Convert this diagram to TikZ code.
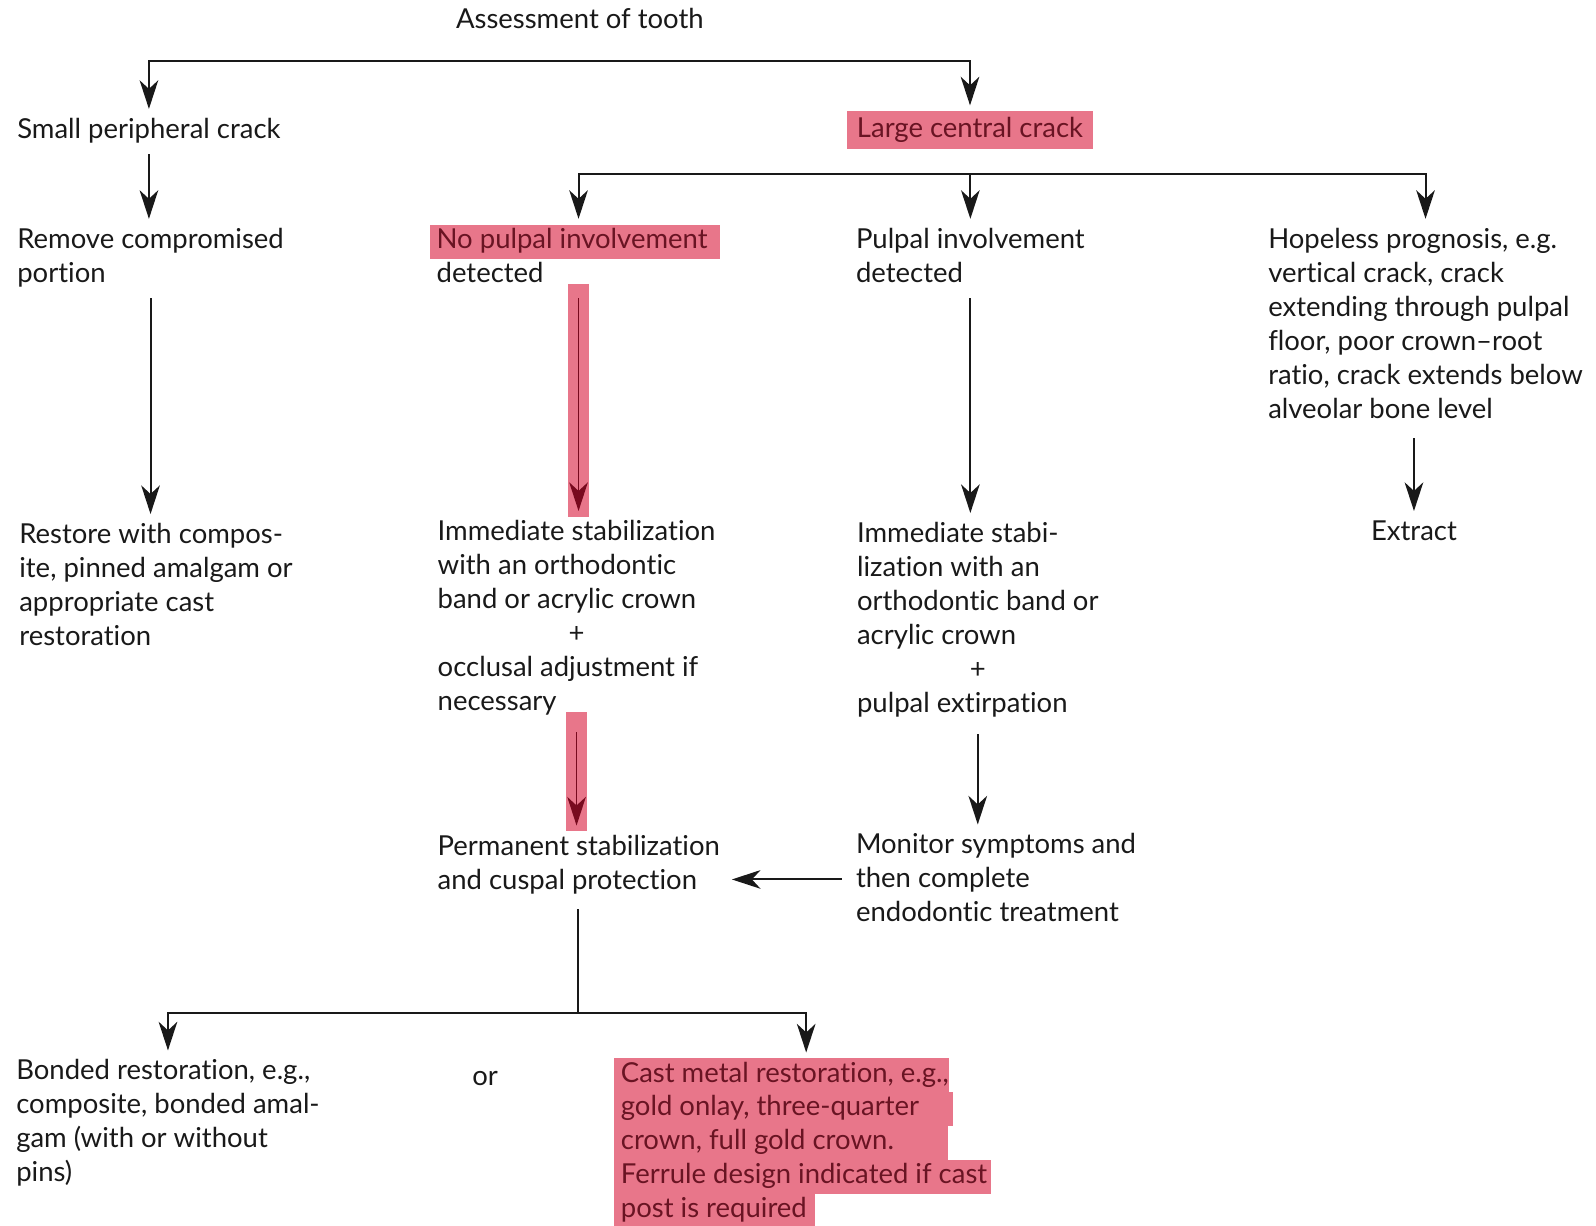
\documentclass[tikz,border=0pt]{standalone}
\usepackage{fontspec}
\setmainfont{Lato}[Ligatures={TeX,NoCommon}]
\usetikzlibrary{arrows.meta}
\definecolor{hlpink}{RGB}{232,118,138}
\definecolor{hltext}{RGB}{105,20,35}
\definecolor{hlarrow}{RGB}{120,10,30}
\newcommand{\hl}[2][3pt]{\hspace*{-2.5pt}{\setlength{\fboxsep}{0pt}\colorbox{hlpink}{\strut\hspace{2.5pt}\color{hltext}#2\hspace{#1}}}}
\newcommand{\lines}[1]{\begin{tabular}[t]{@{}l@{}}#1\end{tabular}}

\begin{document}
\begin{tikzpicture}[
  x=0.0125cm, y=-0.0125cm,
  font=\fontsize{9.6}{11.87}\selectfont,
  >={Stealth[length=10pt,width=6.5pt,inset=3pt]},
  txt/.style={anchor=base west, inner sep=0pt, outer xsep=0pt, outer ysep=2pt, text=black!90},
  crack/.style={fill=hlpink, text=hltext, inner xsep=3.5pt, inner ysep=2pt, minimum height=13.4pt, outer sep=2pt},
  arr/.style={->, line width=0.7pt, draw=black!90},
  hlarr/.style={->, line width=0.5pt, draw=hlarrow,
                preaction={draw=hlpink, line width=0.25cm, -, shorten <=-5pt, shorten >=-2pt}},
]
\useasboundingbox (0,0) rectangle (1568,1204);

\node[txt]   (title)    at (448,28)   {\lines{Assessment of tooth}};
\node[txt]   (small)    at (17,136)   {\lines{Small peripheral crack}};
\node[crack] (large)    at (953,128)  {Large central crack};

\node[txt] (remove)   at (17,244)   {\lines{Remove compromised\\portion}};
\node[txt] (nopulp)   at (429,244)  {\lines{\hl[4.5pt]{No pulpal involvement}\\detected}};
\node[txt] (pulp)     at (841,244)  {\lines{Pulpal involvement\\detected}};
\node[txt] (hopeless) at (1246,244) {\lines{Hopeless prognosis, e.g.\\vertical crack, crack\\extending through pulpal\\floor, poor crown--root\\ratio, crack extends below\\alveolar bone level}};

\node[txt] (restore) at (19,534)  {\lines{Restore with compos-\\ite, pinned amalgam or\\appropriate cast\\restoration}};
\node[txt] (immed1)  at (430,531) {\lines{Immediate stabilization\\with an orthodontic\\band or acrylic crown\\\multicolumn{1}{@{}c@{}}{+}\\occlusal adjustment if\\necessary}};
\node[txt] (immed2)  at (842,533) {\lines{Immediate stabi-\\lization with an\\orthodontic band or\\acrylic crown\\\multicolumn{1}{@{}c@{}}{+}\\pulpal extirpation}};
\node[txt] (extract) at (1347,531) {\lines{Extract}};

\node[txt] (perm)    at (430,840) {\lines{Permanent stabilization\\and cuspal protection}};
\node[txt] (monitor) at (841,839) {\lines{Monitor symptoms and\\then complete\\endodontic treatment}};

\node[txt] (bonded) at (16,1061)  {\lines{Bonded restoration, e.g.,\\composite, bonded amal-\\gam (with or without\\pins)}};
\node[txt] (orword) at (464,1066) {\lines{or}};
\node[txt] (cast)   at (610,1063) {\lines{\hl[0pt]{Cast metal restoration, e.g.,}\\\hl[12pt]{gold onlay, three-quarter}\\\hl[19pt]{crown, full gold crown.}\\\hl[1.5pt]{Ferrule design indicated if cast}\\\hl[3pt]{post is required}}};

% branch points
\coordinate (t1) at (564,60);
\coordinate (t2) at (956,171);
\coordinate (t3) at (568,995);
\coordinate (m1) at (770,864);

\draw[arr] (t1) -| (small);
\draw[arr] (t1) -| (large);
\draw[arr] (small.south) -- (small.south |- remove.north);
\draw[arr] (remove.south) -- (remove.south |- restore.north);

\draw[arr] (t2) -| (nopulp);
\draw[arr] (t2) -| (pulp);
\draw[arr] (t2) -| (hopeless);

\draw[hlarr] (nopulp.south) -- (nopulp.south |- immed1.north);
\draw[hlarr, shorten <=2pt] (immed1.south) -- (immed1.south |- perm.north);
\draw[arr] (pulp.south) -- (pulp.south |- immed2.north);
\draw[arr, shorten <=2pt] (immed2.south) -- (immed2.south |- monitor.north);
\draw[arr, shorten <=1.5pt] (hopeless.south -| extract.north) -- (extract.north);
\draw[arr, shorten <=5pt, shorten >=4.2pt] (monitor.west |- m1) -- (perm.east |- m1);

\draw[arr, -, shorten <=1.5pt] (perm.south -| t3) -- (t3);
\draw[arr] (t3) -| (bonded);
\draw[arr] (t3) -| (cast);

\end{tikzpicture}
\end{document}
